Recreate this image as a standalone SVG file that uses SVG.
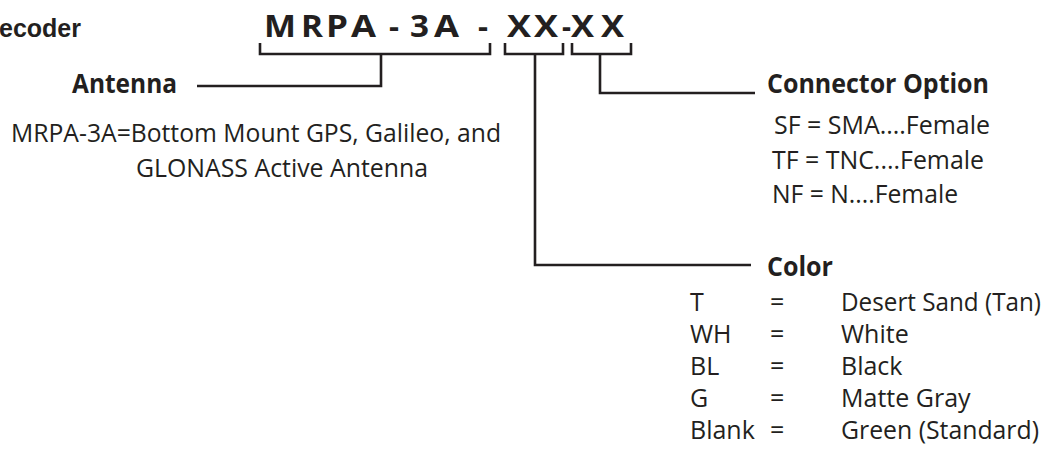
<svg xmlns="http://www.w3.org/2000/svg" width="1047" height="460" viewBox="0 0 1047 460">
<style>
.t{fill:#231f20}
.hd{font-family:"Open Sans","Noto Sans",sans-serif;font-weight:700;font-size:26px}
.ti{font-family:"Open Sans","Noto Sans",sans-serif;font-weight:700;font-size:30px}
.rg{font-family:"Open Sans","Noto Sans",sans-serif;font-size:25px}
.ar{font-family:"Liberation Sans",Arial,sans-serif;font-weight:700;font-size:25px}
.ln{fill:none;stroke:#231f20;stroke-width:2.6;stroke-linecap:butt;stroke-linejoin:miter}
</style>
<rect width="1047" height="460" fill="#ffffff"/>
<g id="corner-label"><text class="t ar" x="-1" y="37">ecoder</text></g>
<g id="part-number">
<text class="t ti" x="264" y="37" textLength="32" lengthAdjust="spacingAndGlyphs">M</text>
<text class="t ti" x="301" y="37" textLength="22" lengthAdjust="spacingAndGlyphs">R</text>
<text class="t ti" x="326" y="37" textLength="22" lengthAdjust="spacingAndGlyphs">P</text>
<text class="t ti" x="351" y="37" textLength="25" lengthAdjust="spacingAndGlyphs">A</text>
<text class="t ti" x="389" y="37" textLength="10" lengthAdjust="spacingAndGlyphs">-</text>
<text class="t ti" x="410" y="37" textLength="19" lengthAdjust="spacingAndGlyphs">3</text>
<text class="t ti" x="434" y="37" textLength="25" lengthAdjust="spacingAndGlyphs">A</text>
<text class="t ti" x="478" y="37" textLength="10" lengthAdjust="spacingAndGlyphs">-</text>
<text class="t ti" x="507" y="37" textLength="24" lengthAdjust="spacingAndGlyphs">X</text>
<text class="t ti" x="534" y="37" textLength="24" lengthAdjust="spacingAndGlyphs">X</text>
<text class="t ti" x="562" y="37" textLength="9" lengthAdjust="spacingAndGlyphs">-</text>
<text class="t ti" x="571" y="37" textLength="23" lengthAdjust="spacingAndGlyphs">X</text>
<text class="t ti" x="601" y="37" textLength="23" lengthAdjust="spacingAndGlyphs">X</text>
</g>
<g id="connectors">
<path class="ln" d="M260,43 V54 H490 V43"/>
<path class="ln" d="M381,54 V86 H197"/>
<path class="ln" d="M505,43 V54 H563 V43"/>
<path class="ln" d="M535,54 V265 H751"/>
<path class="ln" d="M572,43 V54 H631 V43"/>
<path class="ln" d="M600,54 V93 H755"/>
</g>
<g id="antenna">
<text class="t hd" x="72" y="93" textLength="105" lengthAdjust="spacingAndGlyphs">Antenna</text>
<text class="t rg" x="11" y="142" textLength="490" lengthAdjust="spacingAndGlyphs">MRPA-3A=Bottom Mount GPS, Galileo, and</text>
<text class="t rg" x="136" y="177" textLength="292" lengthAdjust="spacingAndGlyphs">GLONASS Active Antenna</text>
</g>
<g id="connector-option">
<text class="t hd" x="767" y="93" textLength="222" lengthAdjust="spacingAndGlyphs">Connector Option</text>
<text class="t rg" x="774" y="134" textLength="216" lengthAdjust="spacingAndGlyphs">SF = SMA....Female</text>
<text class="t rg" x="772" y="169" textLength="212" lengthAdjust="spacingAndGlyphs">TF = TNC....Female</text>
<text class="t rg" x="772" y="203" textLength="186" lengthAdjust="spacingAndGlyphs">NF = N....Female</text>
</g>
<g id="color">
<text class="t hd" x="767" y="276" textLength="66" lengthAdjust="spacingAndGlyphs">Color</text>
<text class="t rg" x="690" y="311">T</text>
<text class="t rg" x="770" y="311">=</text>
<text class="t rg" x="841" y="311" textLength="200" lengthAdjust="spacingAndGlyphs">Desert Sand (Tan)</text>
<text class="t rg" x="690" y="343">WH</text>
<text class="t rg" x="770" y="343">=</text>
<text class="t rg" x="841" y="343">White</text>
<text class="t rg" x="690" y="375">BL</text>
<text class="t rg" x="770" y="375">=</text>
<text class="t rg" x="841" y="375">Black</text>
<text class="t rg" x="690" y="407">G</text>
<text class="t rg" x="770" y="407">=</text>
<text class="t rg" x="841" y="407">Matte Gray</text>
<text class="t rg" x="690" y="439">Blank</text>
<text class="t rg" x="770" y="439">=</text>
<text class="t rg" x="841" y="439" textLength="198" lengthAdjust="spacingAndGlyphs">Green (Standard)</text>
</g>
</svg>
